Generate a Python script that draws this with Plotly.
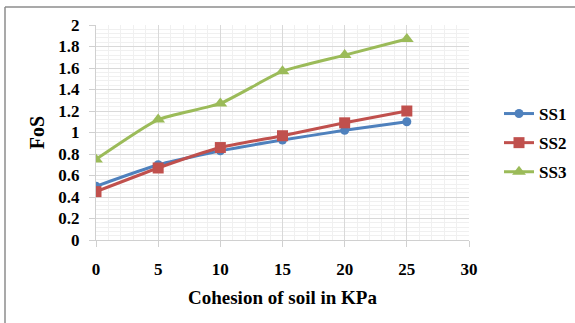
import plotly.graph_objects as go

cohesion = [0, 5, 10, 15, 20, 25]
ss1 = [0.50, 0.70, 0.83, 0.93, 1.02, 1.10]
ss2 = [0.45, 0.67, 0.86, 0.97, 1.09, 1.20]
ss3 = [0.75, 1.12, 1.27, 1.57, 1.72, 1.87]

series = [
    ("SS1", ss1, "#4F81BD", "circle", 9),
    ("SS2", ss2, "#C0504D", "square", 11),
    ("SS3", ss3, "#9BBB59", "triangle-up", 12),
]

fig = go.Figure()
for name, vals, color, symbol, size in series:
    fig.add_trace(go.Scatter(
        x=cohesion, y=vals, name=name, legendgroup=name, mode="lines+markers",
        line=dict(color=color, width=3, shape="spline", smoothing=0.5),
        marker=dict(symbol=symbol, size=size, color=color),
    ))

font_family = "Times New Roman, Liberation Serif, serif"
L, R, T, B = 96, 106, 25, 83
W, H = 575, 323
pw, ph = W - L - R, H - T - B

fig.update_layout(
    width=W, height=H,
    margin=dict(l=L, r=R, t=T, b=B, autoexpand=False),
    paper_bgcolor="white", plot_bgcolor="white",
    font=dict(family=font_family, color="black"),
    legend=dict(
        x=(499 - L) / pw, y=1 - (96 - T) / ph, xanchor="left", yanchor="top",
        font=dict(size=17, family=font_family, weight="bold"),
        traceorder="grouped", tracegroupgap=4, bgcolor="rgba(0,0,0,0)",
    ),
    xaxis=dict(
        range=[0, 30], tickvals=[0, 5, 10, 15, 20, 25, 30],
        showgrid=True, gridcolor="#d9d9d9", gridwidth=1,
        minor=dict(dtick=1, showgrid=True, gridcolor="#f0f0f0"),
        showline=True, linecolor="#d0d0d0", linewidth=1,
        ticks="outside", ticklen=6, tickcolor="#d0d0d0",
        ticklabelstandoff=8,
        tickfont=dict(size=17, family=font_family, weight="bold"),
        title=dict(text="Cohesion of soil in KPa", standoff=12,
                   font=dict(size=19, family=font_family, weight="bold")),
        zeroline=False,
    ),
    yaxis=dict(
        range=[0, 2], dtick=0.2,
        showgrid=True, gridcolor="#d9d9d9", gridwidth=1,
        minor=dict(dtick=0.04, showgrid=True, gridcolor="#f0f0f0"),
        showline=True, linecolor="#d0d0d0", linewidth=1,
        ticks="outside", ticklen=6, tickcolor="#d0d0d0",
        ticklabelstandoff=6,
        tickfont=dict(size=17, family=font_family, weight="bold"),
        title=dict(text="FoS", standoff=8,
                   font=dict(size=20, family=font_family, weight="bold")),
        zeroline=False,
    ),
)

# Chart frame: top and left edges only
frame = dict(color="#8c8c8c", width=1.5)
x_left = (5 - L) / pw
y_top = 1 + (T - 7) / ph
y_bottom = 1 - (H - T) / ph
fig.add_shape(type="line", xref="paper", yref="paper",
              x0=x_left, x1=(W - L) / pw, y0=y_top, y1=y_top, line=frame)
fig.add_shape(type="line", xref="paper", yref="paper",
              x0=x_left, x1=x_left, y0=y_top, y1=y_bottom, line=frame)

fig.write_html("out.html")
